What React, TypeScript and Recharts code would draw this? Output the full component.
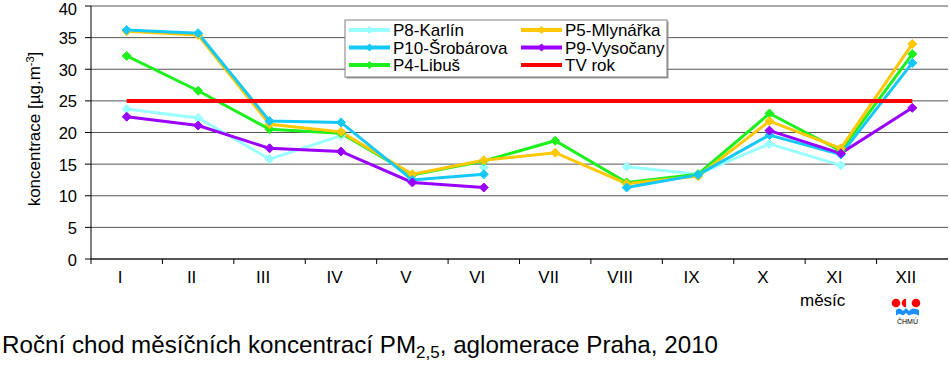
import React from 'react';
import { LineChart, Line, XAxis, YAxis, CartesianGrid } from 'recharts';

const months = ['I', 'II', 'III', 'IV', 'V', 'VI', 'VII', 'VIII', 'IX', 'X', 'XI', 'XII'];
const p8Karlin = [23.7, 22.3, 15.8, 19.5, null, 14.5, null, 14.6, 13.4, 18.2, 14.8, null];
const p10Srobarova = [36.2, 35.7, 21.8, 21.6, 12.5, 13.4, null, 11.3, 13.3, 19.6, 16.5, 31.0];
const p4Libus = [32.1, 26.6, 20.5, 19.9, 13.3, 15.5, 18.7, 12.1, 13.4, 23.0, 17.1, 32.4];
const p5Mlynarka = [36.0, 35.4, 21.3, 20.1, 13.4, 15.6, 16.8, 11.9, 13.1, 21.8, 17.5, 34.0];
const p9Vysocany = [22.5, 21.1, 17.5, 17.0, 12.1, 11.3, null, null, null, 20.3, 16.7, 23.9];
const tvRok = [25, 25, 25, 25, 25, 25, 25, 25, 25, 25, 25, 25];
const yTicks = [0, 5, 10, 15, 20, 25, 30, 35, 40];

const data = months.map((m, i) => ({
  m,
  p8: p8Karlin[i],
  p10: p10Srobarova[i],
  p4: p4Libus[i],
  p5: p5Mlynarka[i],
  p9: p9Vysocany[i],
  tv: tvRok[i],
}));

const W = 950;
const H = 376;
const PLOT_LEFT = 91;
const PLOT_RIGHT = 948;
const PLOT_TOP = 6;
const PLOT_BOTTOM = 259;
const HALF_BAND = (PLOT_RIGHT - PLOT_LEFT) / months.length / 2;
const FONT = "'Liberation Sans', Arial, sans-serif";

const C = {
  p8: '#99FFFF',
  p10: '#14C8F8',
  p4: '#1EF01E',
  p5: '#FFC800',
  p9: '#9A00FF',
  tv: '#FF0000',
};

const makeDiamond = (color: string) => (props: any) => {
  const { cx, cy, index, value } = props;
  if (value == null || cy == null || isNaN(cy)) return <g key={`d${index}`} />;
  const r = 4.5;
  return (
    <path
      key={`d${index}`}
      d={`M${cx},${cy - r}L${cx + r},${cy}L${cx},${cy + r}L${cx - r},${cy}Z`}
      fill={color}
      stroke={color}
      strokeWidth={1}
    />
  );
};

const XTick = (props: any) => {
  const { x, y, payload } = props;
  return (
    <g>
      <line x1={x - HALF_BAND} x2={x - HALF_BAND} y1={y} y2={y + 5} stroke="#000" strokeWidth={1} />
      <text x={x - 6.5} y={y + 24} textAnchor="middle" fontSize={17} fontFamily={FONT} fill="#000">
        {payload.value}
      </text>
    </g>
  );
};

const YTick = (props: any) => {
  const { x, y, payload } = props;
  const top = payload.value === yTicks[yTicks.length - 1];
  return (
    <text x={x} y={y + (top ? 9 : 6.6)} textAnchor="end" fontSize={16.5} fontFamily={FONT} fill="#000">
      {payload.value}
    </text>
  );
};

const legendItems = [
  { label: 'P8-Karlín', color: C.p8, col: 0, row: 0, marker: true },
  { label: 'P10-Šrobárova', color: C.p10, col: 0, row: 1, marker: true },
  { label: 'P4-Libuš', color: C.p4, col: 0, row: 2, marker: true },
  { label: 'P5-Mlynářka', color: C.p5, col: 1, row: 0, marker: true },
  { label: 'P9-Vysočany', color: C.p9, col: 1, row: 1, marker: true },
  { label: 'TV rok', color: C.tv, col: 1, row: 2, marker: false },
];

export default function App() {
  const LX = 345;
  const LY = 20;
  const colX = [349, 521];
  const rowY = [30, 47.5, 65];
  return (
    <div style={{ position: 'absolute', left: 0, top: 0, width: W, height: H, background: '#fff' }}>
      <LineChart
        width={W}
        height={H}
        data={data}
        margin={{ top: PLOT_TOP, right: W - PLOT_RIGHT, left: 0, bottom: 87 }}
      >
        <CartesianGrid horizontal vertical={false} stroke="#555" strokeWidth={1} />
        <XAxis
          dataKey="m"
          scale="band"
          height={H - PLOT_BOTTOM - 87}
          tickLine={false}
          tickSize={0}
          tickMargin={0}
          axisLine={{ stroke: '#000', strokeWidth: 1 }}
          tick={<XTick />}
          interval={0}
        />
        <YAxis
          width={PLOT_LEFT}
          domain={[0, 40]}
          ticks={yTicks}
          interval={0}
          tickSize={6}
          tickMargin={8}
          axisLine={{ stroke: '#000', strokeWidth: 1 }}
          tickLine={{ stroke: '#000' }}
          tick={<YTick />}
        />
        <YAxis
          yAxisId="r"
          orientation="right"
          width={0}
          domain={[0, 40]}
          tick={false}
          tickLine={false}
          axisLine={{ stroke: '#333', strokeWidth: 1 }}
        />
        <Line dataKey="p8" stroke={C.p8} strokeWidth={3} dot={makeDiamond(C.p8)} activeDot={false} isAnimationActive={false} />
        <Line dataKey="p4" stroke={C.p4} strokeWidth={3} dot={makeDiamond(C.p4)} activeDot={false} isAnimationActive={false} />
        <Line dataKey="p5" stroke={C.p5} strokeWidth={3} dot={makeDiamond(C.p5)} activeDot={false} isAnimationActive={false} />
        <Line dataKey="p10" stroke={C.p10} strokeWidth={3} dot={makeDiamond(C.p10)} activeDot={false} isAnimationActive={false} />
        <Line dataKey="p9" stroke={C.p9} strokeWidth={3} dot={makeDiamond(C.p9)} activeDot={false} isAnimationActive={false} />
        <Line dataKey="tv" stroke={C.tv} strokeWidth={4} dot={false} activeDot={false} isAnimationActive={false} />
      </LineChart>
      <svg
        width={W}
        height={H}
        style={{ position: 'absolute', left: 0, top: 0, pointerEvents: 'none' }}
        fontFamily={FONT}
      >
        {/* legend */}
        <rect x={LX + 1.5} y={LY + 1.5} width={322} height={57} fill="#999" />
        <rect x={LX} y={LY} width={322} height={57} fill="#fff" stroke="#808080" strokeWidth={1} />
        {legendItems.map((it) => {
          const x0 = colX[it.col];
          const y0 = rowY[it.row];
          const mx = x0 + 20.5;
          return (
            <g key={it.label}>
              <line x1={x0} x2={x0 + 41} y1={y0} y2={y0} stroke={it.color} strokeWidth={4} />
              {it.marker && (
                <path d={`M${mx},${y0 - 4}L${mx + 4},${y0}L${mx},${y0 + 4}L${mx - 4},${y0}Z`} fill={it.color} />
              )}
              <text x={x0 + 44} y={y0 + 6} fontSize={17} fill="#000">
                {it.label}
              </text>
            </g>
          );
        })}
        {/* y axis label */}
        <text
          x={40}
          y={129}
          transform="rotate(-90, 40, 129)"
          textAnchor="middle"
          fontSize={17}
          fill="#000"
        >
          koncentrace [µg.m<tspan dy={-6} fontSize={11}>-3</tspan>
          <tspan dy={6}>]</tspan>
        </text>
        {/* x axis title */}
        <text x={800} y={306} fontSize={17} fill="#000">
          měsíc
        </text>
        {/* logo */}
        <circle cx={896} cy={303} r={4.3} fill="#FF0000" />
        <path d="M906,298.7 A4.3,4.3 0 0 0 906,307.3 Z" fill="#FF0000" />
        <circle cx={916} cy={303} r={4.3} fill="#FF0000" />
        <path
          d="M896,310 Q900,306.5 903,311 L906,308 L909,311 Q912,306.5 919,310 L919,315.5 Q913,312.5 909,315.5 L906,313 L903,315.5 Q899,312.5 896,315.5 Z"
          fill="#1E8FFF"
        />
        <text x={907.5} y={324} fontSize={7} textAnchor="middle" fill="#000">
          ČHMÚ
        </text>
        {/* caption */}
        <text x={2} y={353} fontSize={24.2} fill="#000">
          Roční chod měsíčních koncentrací PM
          <tspan dy={5} fontSize={17}>2,5</tspan>
          <tspan dy={-5}>, aglomerace Praha, 2010</tspan>
        </text>
      </svg>
    </div>
  );
}
